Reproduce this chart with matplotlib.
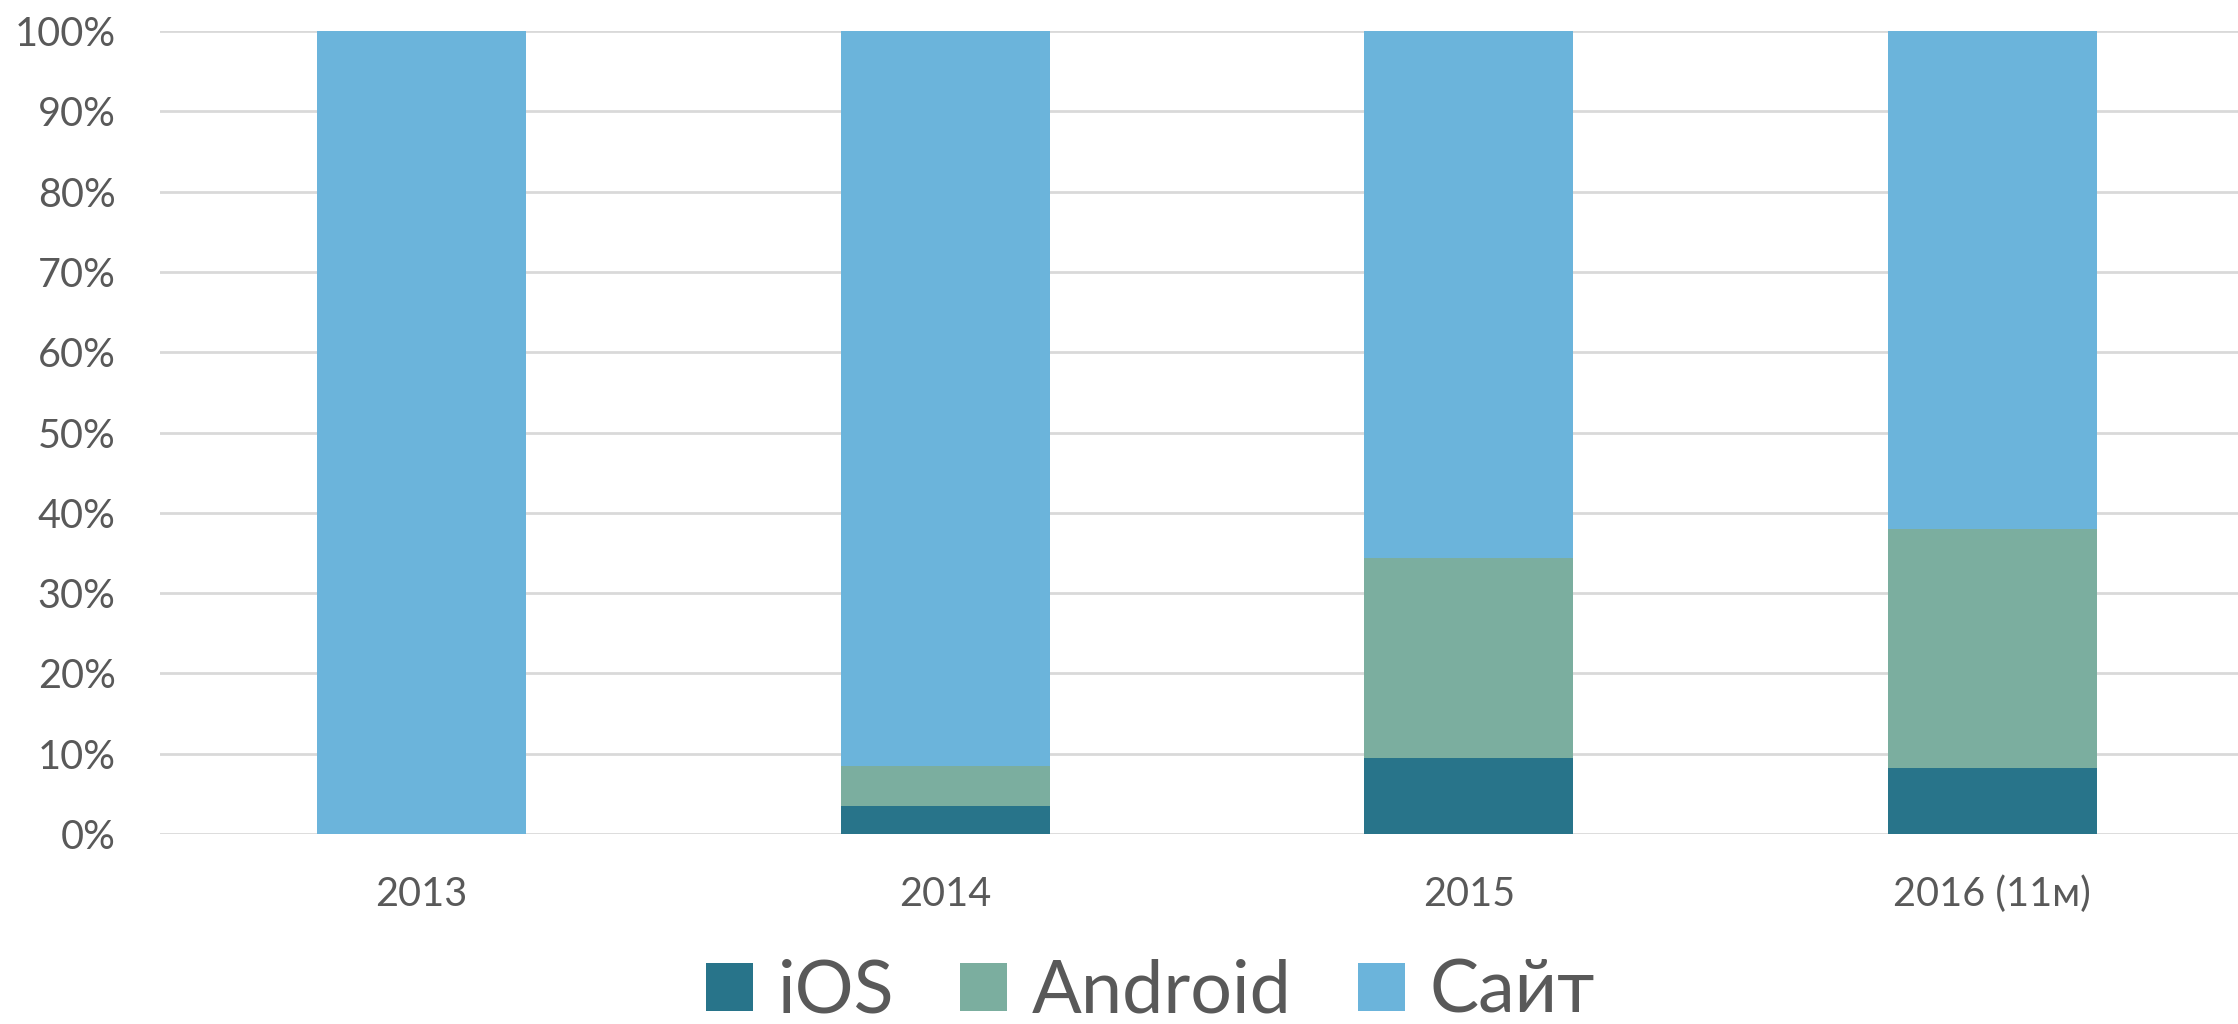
import matplotlib
matplotlib.use("Agg")
import matplotlib.pyplot as plt
from matplotlib.ticker import FuncFormatter, MultipleLocator
import numpy as np

categories = ["2013", "2014", "2015", "2016 (11м)"]
ios = [0.0, 3.5, 9.5, 8.2]
android = [0.0, 5.0, 24.9, 29.8]
site = [100.0, 91.5, 65.6, 62.0]
series_names = ["iOS", "Android", "Сайт"]
colors = ["#28748A", "#7BAE9F", "#6BB4DB"]

plt.rcParams['font.family'] = ['Lato', 'DejaVu Sans']
text_color = "#595959"

W, H = 2238, 1024
fig = plt.figure(figsize=(W / 100, H / 100), dpi=100)
ax = fig.add_axes([160 / W, 1 - 834 / H, (2254 - 160) / W, (834 - 31) / H])

x = np.arange(len(categories))
width = 0.4
bottom = np.zeros(len(categories))
handles = []
for name, vals, c in zip(series_names, [ios, android, site], colors):
    vals = np.array(vals)
    b = ax.bar(x, vals, width, bottom=bottom, color=c, label=name, zorder=3,
               edgecolor='none')
    handles.append(b)
    bottom += vals

ax.set_xlim(-0.5, len(categories) - 0.5)
ax.set_ylim(0, 100)
ax.yaxis.set_major_locator(MultipleLocator(10))
ax.yaxis.set_major_formatter(FuncFormatter(lambda v, p: f"{int(round(v))}%"))
ax.grid(axis='y', color='#D9D9D9', linewidth=2, zorder=0)
ax.set_axisbelow(True)
for s in ax.spines.values():
    s.set_visible(False)
ax.tick_params(axis='both', length=0, colors=text_color, labelsize=28.5)
ax.tick_params(axis='y', pad=32)
ax.tick_params(axis='x', pad=30)
ax.set_xticks(x)
ax.set_xticklabels(categories)

leg = fig.legend(handles=handles, labels=series_names, ncol=3, loc='center',
                 bbox_to_anchor=(0.514, 0.031), frameon=False, fontsize=53,
                 handlelength=0.64, handleheight=0.64, handletextpad=0.33,
                 columnspacing=0.9, borderaxespad=0, borderpad=0)
for t in leg.get_texts():
    t.set_color(text_color)

fig.savefig("out.png", dpi=100, facecolor='white')
